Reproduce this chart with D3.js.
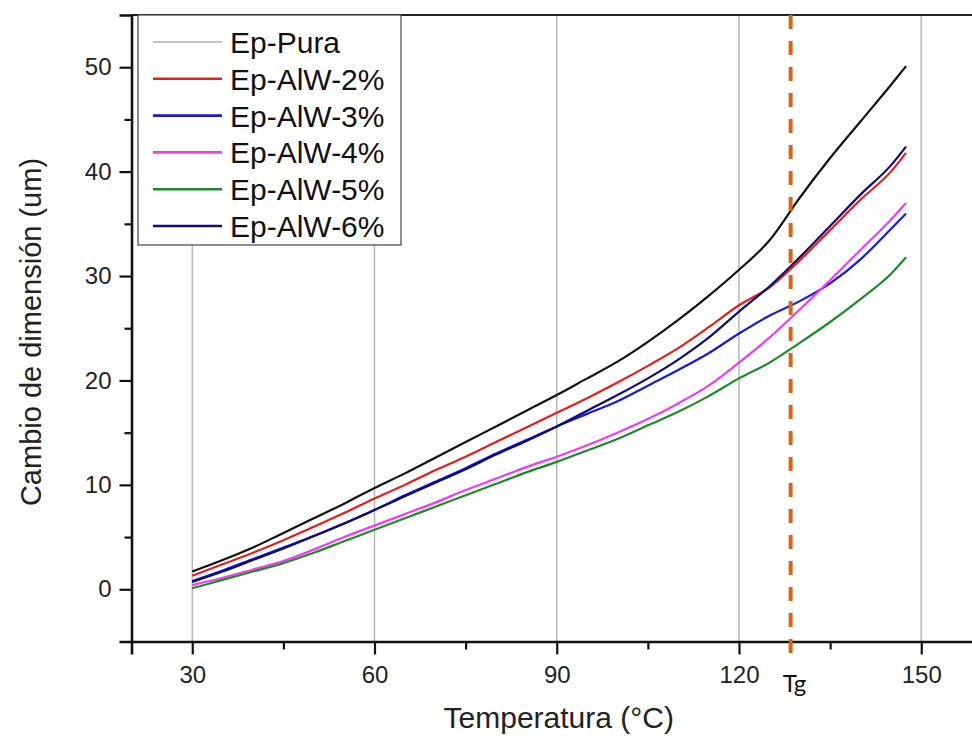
<!DOCTYPE html>
<html>
<head>
<meta charset="utf-8">
<script src="https://cdn.jsdelivr.net/npm/d3@7.9.0/dist/d3.min.js"></script>
<style>
  html, body { margin: 0; padding: 0; background: #fff; }
  svg { display: block; font-family: "Liberation Sans", Arial, sans-serif; }
</style>
</head>
<body>
<svg id="chart" width="972" height="736"></svg>
<script>
// temperature samples (°C)
const temps = [30, 35, 40, 45, 50, 55, 60, 65, 70, 75, 80, 85, 90, 95, 100, 105, 110, 115, 120, 125, 130, 135, 140, 145, 147.5];

// dimension change (um) per sample
const epPura = [1.7, 2.8, 4.0, 5.4, 6.8, 8.2, 9.7, 11.1, 12.6, 14.1, 15.6, 17.1, 18.6, 20.2, 21.8, 23.7, 25.8, 28.1, 30.6, 33.4, 37.5, 41.3, 44.8, 48.3, 50.1];
const alw2 = [1.3, 2.4, 3.5, 4.7, 6.0, 7.3, 8.7, 10.0, 11.4, 12.7, 14.1, 15.5, 16.9, 18.3, 19.8, 21.4, 23.1, 25.1, 27.2, 28.9, 31.5, 34.4, 37.3, 40.0, 41.8];
const alw3 = [0.8, 1.8, 2.9, 4.0, 5.1, 6.3, 7.6, 9.0, 10.3, 11.6, 13.0, 14.3, 15.6, 16.8, 18.0, 19.5, 21.0, 22.6, 24.5, 26.2, 27.6, 29.3, 31.6, 34.5, 36.0];
const alw4 = [0.4, 1.1, 1.9, 2.7, 3.8, 5.0, 6.1, 7.2, 8.3, 9.5, 10.6, 11.7, 12.7, 13.8, 15.0, 16.3, 17.8, 19.5, 21.7, 24.1, 26.8, 29.6, 32.5, 35.4, 37.0];
const alw5 = [0.1, 0.9, 1.7, 2.5, 3.5, 4.6, 5.7, 6.8, 7.9, 9.0, 10.1, 11.2, 12.2, 13.3, 14.4, 15.7, 17.0, 18.5, 20.2, 21.7, 23.6, 25.6, 27.8, 30.2, 31.8];
const alw6 = [0.7, 1.7, 2.8, 3.9, 5.1, 6.3, 7.6, 8.9, 10.2, 11.5, 12.9, 14.2, 15.6, 17.1, 18.6, 20.2, 22.0, 24.1, 26.6, 29.0, 31.8, 34.8, 37.8, 40.6, 42.4];

const seriesNames = ['Ep-Pura', 'Ep-AlW-2%', 'Ep-AlW-3%', 'Ep-AlW-4%', 'Ep-AlW-5%', 'Ep-AlW-6%'];
const seriesValues = [epPura, alw2, alw3, alw4, alw5, alw6];
const seriesColors = ['#111111', '#e0201c', '#1a1ad6', '#f03cf0', '#20892a', '#0c0c72'];

const xTicks = [30, 60, 90, 120, 150];
const xMinorTicks = [45, 75, 105, 135];
const yTicks = [0, 10, 20, 30, 40, 50];
const yMinorTicks = [5, 15, 25, 35, 45];
const tg = 128.5;

const margin = { left: 131.5, top: 15 };
const plotW = 850.5, plotH = 626.5;

const svg = d3.select('#chart');

const x = d3.scaleLinear().domain([20, 160]).range([margin.left, margin.left + plotW]);
const y = d3.scaleLinear().domain([-5, 55]).range([margin.top + plotH, margin.top]);

// vertical grid
svg.append('g')
  .selectAll('line')
  .data(xTicks)
  .join('line')
  .attr('x1', d => x(d)).attr('x2', d => x(d))
  .attr('y1', y(55)).attr('y2', y(-5))
  .attr('stroke', '#b4b4b4')
  .attr('stroke-width', 1.4);

// top frame
svg.append('line')
  .attr('x1', x(20)).attr('x2', x(160))
  .attr('y1', y(55)).attr('y2', y(55))
  .attr('stroke', '#222').attr('stroke-width', 2.2);

// series lines
const line = d3.line()
  .x((d, i) => x(temps[i]))
  .y(d => y(d))
  .curve(d3.curveMonotoneX);

svg.append('g')
  .selectAll('path')
  .data(seriesValues)
  .join('path')
  .attr('d', d => line(d))
  .attr('fill', 'none')
  .attr('stroke', (d, i) => seriesColors[i])
  .attr('stroke-width', 2.2)
  .attr('stroke-linejoin', 'round');

// axes
svg.append('g')
  .attr('transform', `translate(0,${y(-5)})`)
  .call(d3.axisBottom(x).tickValues(xTicks).tickSize(13).tickPadding(11));
svg.append('g')
  .attr('transform', `translate(0,${y(-5)})`)
  .call(d3.axisBottom(x).tickValues(xMinorTicks).tickSize(8).tickFormat(''))
  .select('.domain').remove();

svg.append('g')
  .attr('transform', `translate(${x(20)},0)`)
  .call(d3.axisLeft(y).tickValues(yTicks).tickSize(12).tickPadding(8));
svg.append('g')
  .attr('transform', `translate(${x(20)},0)`)
  .call(d3.axisLeft(y).tickValues(yMinorTicks).tickSize(7).tickFormat(''))
  .select('.domain').remove();

svg.selectAll('.domain').attr('stroke', '#111').attr('stroke-width', 2.6);
svg.selectAll('.tick line').attr('stroke', '#111').attr('stroke-width', 2.2);
svg.selectAll('.tick text')
  .attr('fill', '#222')
  .style('font-size', '24px')
  .style('font-family', '"Liberation Sans", Arial, sans-serif');

// Tg dashed line
svg.append('line')
  .attr('x1', x(tg)).attr('x2', x(tg))
  .attr('y1', y(55)).attr('y2', y(-5) + 12)
  .attr('stroke', '#d2661c')
  .attr('stroke-width', 4)
  .attr('stroke-dasharray', '14 12');

svg.append('text')
  .attr('x', x(tg) - 8)
  .attr('y', 692)
  .style('font-family', 'Lato, "Open Sans", sans-serif')
  .style('font-size', '24px')
  .attr('fill', '#111')
  .text('Tg');

// axis titles
svg.append('text')
  .attr('x', x(90) + 2)
  .attr('y', 728)
  .attr('text-anchor', 'middle')
  .style('font-size', '30px')
  .attr('fill', '#222')
  .text('Temperatura (°C)');

svg.append('text')
  .attr('transform', `translate(41,${332}) rotate(-90)`)
  .attr('text-anchor', 'middle')
  .style('font-size', '29px')
  .attr('fill', '#222')
  .text('Cambio de dimensión (um)');

// legend
const legend = svg.append('g');
legend.append('rect')
  .attr('x', 138).attr('y', 15)
  .attr('width', 263).attr('height', 230)
  .attr('fill', '#fff')
  .attr('stroke', '#444')
  .attr('stroke-width', 1.2);

const rows = legend.selectAll('g.row')
  .data(seriesNames)
  .join('g')
  .attr('class', 'row')
  .attr('transform', (d, i) => `translate(0,${42 + i * 36.8})`);

rows.append('line')
  .attr('x1', 153).attr('x2', 222)
  .attr('y1', 0).attr('y2', 0)
  .attr('stroke', (d, i) => i === 0 ? '#8a8a8a' : seriesColors[i])
  .attr('stroke-width', (d, i) => i === 0 ? 1.2 : 2.6);

rows.append('text')
  .attr('x', 230)
  .attr('y', 11)
  .style('font-size', '30px')
  .attr('fill', '#111')
  .text(d => d);
</script>
</body>
</html>
